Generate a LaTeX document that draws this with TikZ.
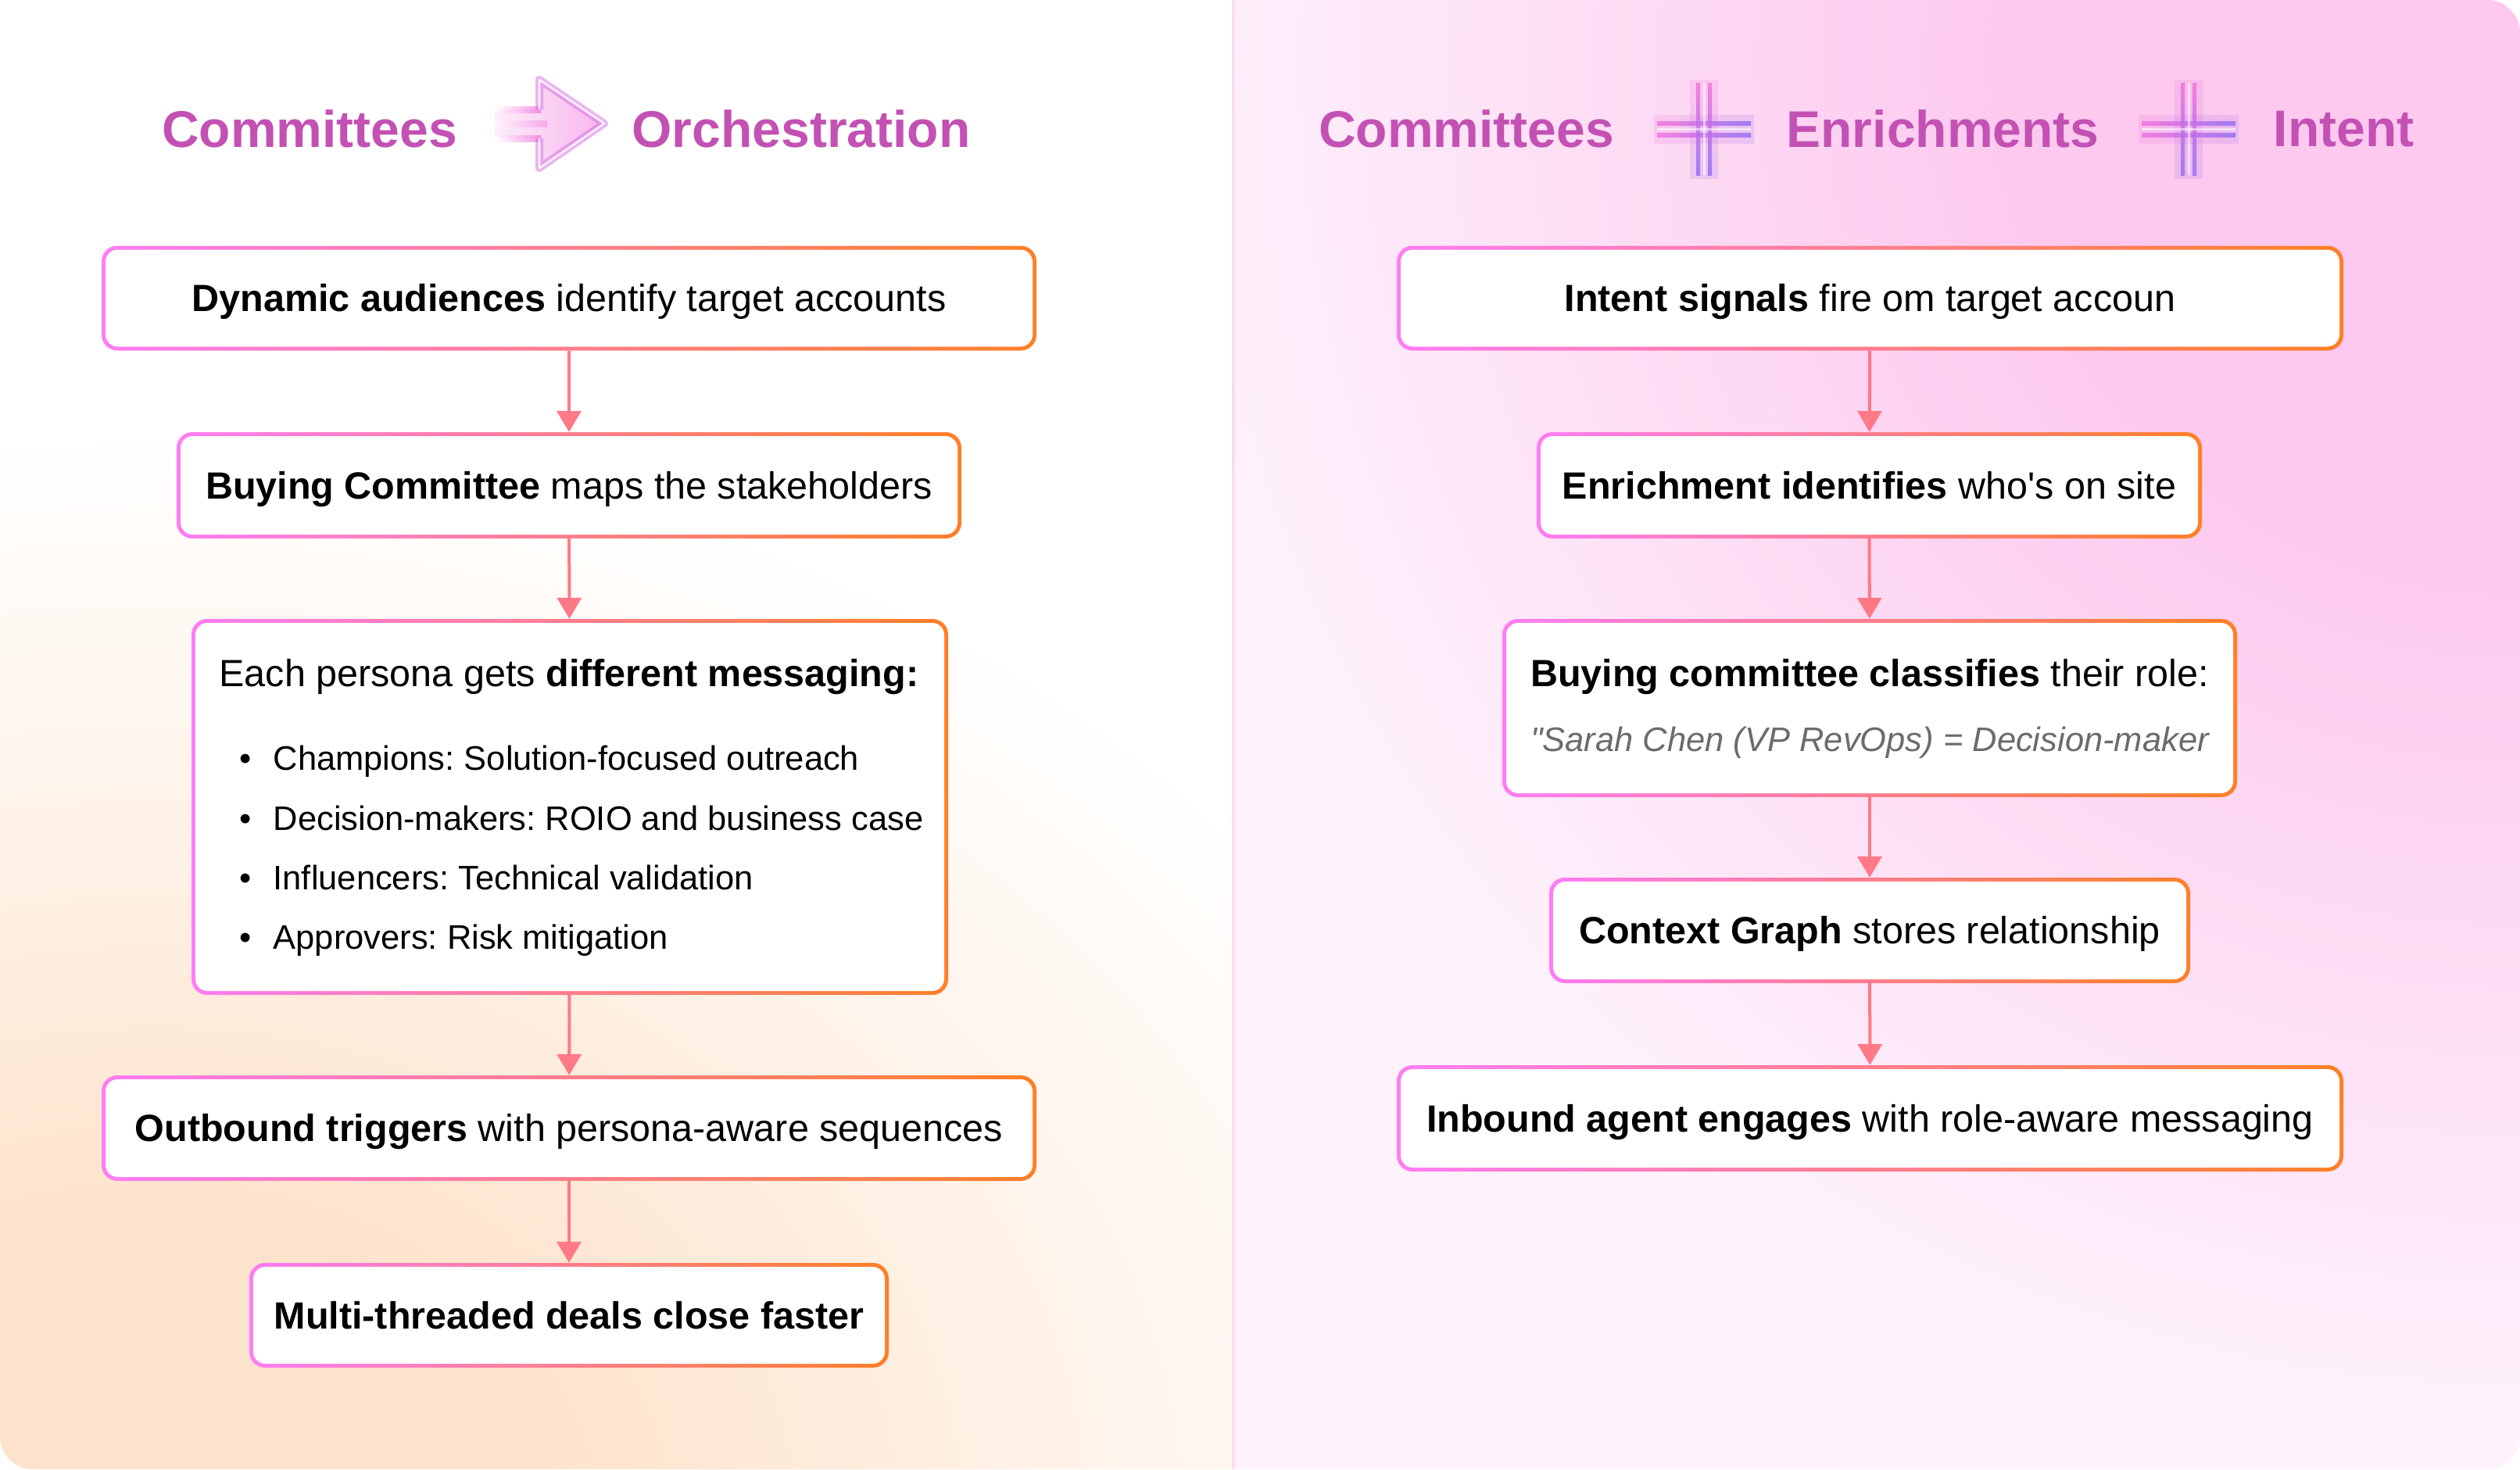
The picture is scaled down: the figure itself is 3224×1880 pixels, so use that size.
\documentclass[tikz,border=0pt]{standalone}
\usepackage{fontspec}
\setmainfont{Liberation Sans}
\newfontfamily\qfont{Liberation Sans}[Ligatures=TeXOff]
\usetikzlibrary{arrows.meta}
\frenchspacing
\definecolor{titlecol}{HTML}{C351B4}
\definecolor{bpink}{HTML}{FF7CF4}
\definecolor{borange}{HTML}{FF7F26}
\definecolor{conncol}{HTML}{FF7986}
\definecolor{peach}{HTML}{FEE3CC}
\definecolor{rpink}{HTML}{FDC9EE}
\definecolor{rpale}{HTML}{FEF3FC}
\definecolor{divcol}{HTML}{FCDCF0}
\definecolor{graytxt}{HTML}{6B6B6B}
\definecolor{icpink}{HTML}{F26FDB}
\definecolor{icviolet}{HTML}{8E6CF2}
\pgfdeclareradialshading{leftglow}{\pgfpoint{0bp}{0bp}}{color(0bp)=(peach); color(7bp)=(peach); color(16bp)=(peach!45!white); color(25bp)=(white); color(50bp)=(white)}
\pgfdeclareradialshading{rightglow}{\pgfpoint{0bp}{0bp}}{color(0bp)=(rpink); color(8bp)=(rpink); color(22bp)=(rpale); color(25bp)=(rpale); color(50bp)=(rpale)}
\newcommand\xbody{\fontsize{48.5pt}{58pt}\selectfont}
\newcommand\xsmall{\fontsize{43.5pt}{52pt}\selectfont}
\newcommand\xtitle{\fontsize{66pt}{79pt}\selectfont\bfseries}
\newcommand\glowplus[1]{%
\begin{scope}[shift={#1}]
 \path[left color=icpink, right color=icviolet, opacity=0.18] (-64,-18) rectangle (64,18);
 \path[top color=icpink, bottom color=icviolet, opacity=0.18] (-18,-63) rectangle (18,63);
 \path[left color=icpink, right color=icviolet, opacity=0.8] (-60,-10) rectangle (60,-5);
 \path[left color=icpink, right color=icviolet, opacity=0.8] (-60,5) rectangle (60,10);
 \path[top color=icpink, bottom color=icviolet, opacity=0.8] (-10,-59) rectangle (-5,59);
 \path[top color=icpink, bottom color=icviolet, opacity=0.8] (5,-59) rectangle (10,59);
 \fill[white, opacity=0.55] (-60,-1.5) rectangle (60,1.5);
 \fill[white, opacity=0.55] (-1.5,-59) rectangle (1.5,59);
\end{scope}}
\tikzset{
 flowbox/.style={rounded corners=20pt, left color=bpink, right color=borange, inner sep=0pt,
   font=\xbody, text=black, text height=34.7pt, text depth=0pt,
   path picture={\fill[white, rounded corners=15.5pt]
     ([xshift=5pt,yshift=5pt]path picture bounding box.south west) rectangle
     ([xshift=-5pt,yshift=-5pt]path picture bounding box.north east);}},
 conn/.style={draw=conncol, line width=4pt, -{Triangle[width=31pt,length=27pt]}},
 ttl/.style={font=\xtitle, text=titlecol, inner sep=0pt},
 txt/.style={font=\xbody, text=black, inner sep=0pt},
 txtsm/.style={font=\xsmall, text=black, inner sep=0pt},
}
\begin{document}
\begin{tikzpicture}[x=1pt,y=-1pt]
\useasboundingbox (0,0) rectangle (3224,1880);
% background panels
\begin{scope}
 \clip[rounded corners=42pt] (0,0) rectangle (3224,1880);
 \begin{scope}
  \clip (0,0) rectangle (1578,1880);
  \fill[white] (0,0) rectangle (1578,1880);
  \shade[shading=leftglow] (200,1950) ellipse [x radius=1800pt, y radius=1400pt];
 \end{scope}
 \begin{scope}
  \clip (1578,0) rectangle (3224,1880);
  \fill[rpale] (1578,0) rectangle (3224,1880);
  \shade[shading=rightglow] (3224,80) circle [radius=2000pt];
 \end{scope}
 \fill[divcol] (1576,0) rectangle (1580,1880);
\end{scope}
% titles
\node[ttl] (t1) at (396,165) {Committees};
\node[ttl] (t2) at (1025,165) {Orchestration};
\node[ttl] (t3) at (1876,165) {Committees};
\node[ttl] (t4) at (2485.5,165) {Enrichments};
\node[ttl] (t5) at (2998.5,165) {Intent};
% glowing arrow icon
\path[left color=icpink!15, right color=icpink!60, opacity=0.85]
  (633,140) -- (690,140) -- (690,102) -- (773,158) -- (690,215) -- (690,177) -- (633,177) -- cycle;
\path[left color=white, right color=icpink, opacity=0.7] (633,136) rectangle (692,144);
\path[left color=white, right color=icpink, opacity=0.7] (633,173) rectangle (692,181);
\path[left color=white, right color=icpink, opacity=0.4] (633,154) rectangle (700,162);
\draw[icpink!70!icviolet, line width=10pt, opacity=0.5, line join=round]
  (690,140) -- (690,102) -- (773,158) -- (690,215) -- (690,177);
\draw[white, line width=2.5pt, opacity=0.85, line join=round]
  (690,140) -- (690,102) -- (773,158) -- (690,215) -- (690,177);
% glowing plus icons
\glowplus{(2180,165)}
\glowplus{(2800,165)}
% left column
\node[flowbox, minimum width=1196pt, minimum height=134pt] (b1) at (728,381.5) {\textbf{Dynamic audiences} identify target accounts};
\node[flowbox, minimum width=1004pt, minimum height=136pt] (b2) at (728,621) {\textbf{Buying Committee} maps the stakeholders};
\node[flowbox, minimum width=968pt, minimum height=481pt] (b3) at (729,1032.5) {};
\node[flowbox, minimum width=1196pt, minimum height=135pt] (b4) at (728,1443.5) {\textbf{Outbound triggers} with persona-aware sequences};
\node[flowbox, minimum width=818pt, minimum height=134pt] (b5) at (728,1683) {\textbf{Multi-threaded deals close faster}};
\node[txt, anchor=base] (b3h) at (728,878) {Each persona gets \textbf{different messaging:}};
\node[txtsm, anchor=base west] (b3a) at (306,985) {\makebox[43.5pt][l]{\textbullet}Champions: Solution-focused outreach};
\node[txtsm, anchor=base west] (b3b) at (306,1062) {\makebox[43.5pt][l]{\textbullet}Decision-makers: ROIO and business case};
\node[txtsm, anchor=base west] (b3c) at (306,1138) {\makebox[43.5pt][l]{\textbullet}Influencers: Technical validation};
\node[txtsm, anchor=base west] (b3d) at (306,1214) {\makebox[43.5pt][l]{\textbullet}Approvers: Risk mitigation};
% right column
\node[flowbox, minimum width=1211pt, minimum height=134pt] (r1) at (2392.5,381.5) {\textbf{Intent signals} fire om target accoun};
\node[flowbox, minimum width=851pt, minimum height=136pt] (r2) at (2391.5,621) {\textbf{Enrichment identifies} who{\qfont\char39}s on site};
\node[flowbox, minimum width=940pt, minimum height=228pt] (r3) at (2392,906) {};
\node[flowbox, minimum width=820pt, minimum height=135pt] (r4) at (2392,1190.5) {\textbf{Context Graph} stores relationship};
\node[flowbox, minimum width=1211pt, minimum height=136pt] (r5) at (2392.5,1431) {\textbf{Inbound agent engages} with role-aware messaging};
\node[txt, anchor=base] (r3h) at (2392,878) {\textbf{Buying committee classifies} their role:};
\node[txtsm, text=graytxt, anchor=base] (r3q) at (2392,961) {\itshape {\qfont\itshape\char34}Sarah Chen (VP RevOps) = Decision-maker};
% connectors
\draw[conn] (b1) -- (b2);
\draw[conn] (b2) -- (b3);
\draw[conn] (b3) -- (b4);
\draw[conn] (b4) -- (b5);
\draw[conn] (r1) -- (r2);
\draw[conn] (r2) -- (r3);
\draw[conn] (r3) -- (r4);
\draw[conn] (r4) -- (r5);
\end{tikzpicture}
\end{document}
